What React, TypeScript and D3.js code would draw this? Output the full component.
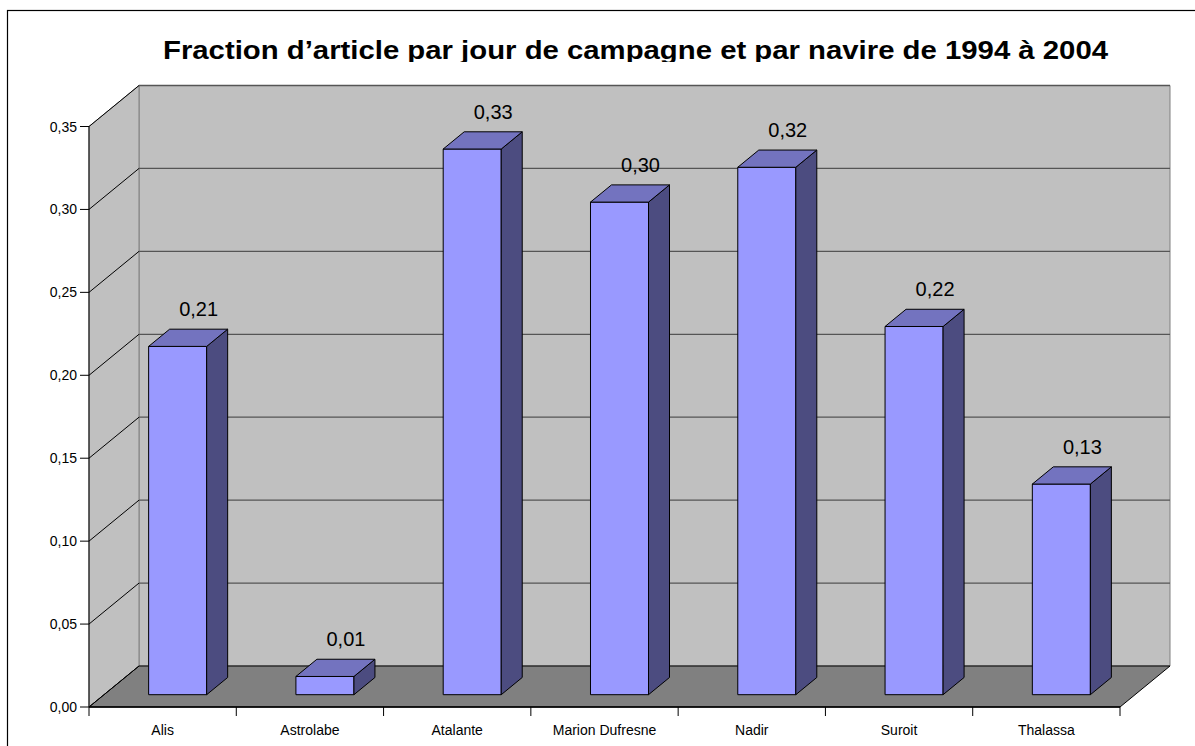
import React from "react";
import * as d3 from "d3";

const categories = ["Alis", "Astrolabe", "Atalante", "Marion Dufresne", "Nadir", "Suroit", "Thalassa"];
const values = [0.21, 0.011, 0.329, 0.297, 0.318, 0.222, 0.127];
const yTicks = [0, 0.05, 0.1, 0.15, 0.2, 0.25, 0.3, 0.35];
const title = "Fraction d\u2019article par jour de campagne et par navire de 1994 à 2004";

const W = 1195;
const H = 746;
const DX = 50;
const DY = -41;
const D0 = 0.3;
const D1 = 0.72;

const fmt = (v: number) => d3.format(".2f")(v).replace(".", ",");

export default function App() {
  const x = d3.scaleBand<string>().domain(categories).range([89, 1120]).padding(0);
  const y = d3.scaleLinear().domain([0, 0.35]).range([707, 126.5]);
  const step = x.step();
  const barW = step * 0.394;
  const p = (px: number, py: number, d: number) => [px + d * DX, py + d * DY];
  const pts = (arr: number[][]) => arr.map((a) => a.join(",")).join(" ");

  const x0 = x.range()[0];
  const x1 = x.range()[1];
  const yTop = y(0.35);
  const y0 = y(0);

  return (
    <svg width={W} height={H} style={{ position: "fixed", left: 0, top: 0, background: "#fff" }}
      fontFamily="'Liberation Sans', Arial, sans-serif">
      <defs>
        <clipPath id="titleClip">
          <rect x={0} y={0} width={W} height={62} />
        </clipPath>
      </defs>
      <rect x={7.5} y={10.5} width={1300} height={900} fill="#fff" stroke="#000" strokeWidth={1.2} />
      <text x={635.5} y={59} textAnchor="middle" fontSize={26} fontWeight="bold" textLength={945}
        lengthAdjust="spacingAndGlyphs" clipPath="url(#titleClip)">{title}</text>

      {/* back wall */}
      <polygon points={pts([p(x0, yTop, 1), p(x1, yTop, 1), p(x1, y0, 1), p(x0, y0, 1)])}
        fill="#c0c0c0" stroke="#808080" strokeWidth={1} />
      {/* left wall */}
      <polygon points={pts([p(x0, yTop, 0), p(x0, yTop, 1), p(x0, y0, 1), p(x0, y0, 0)])}
        fill="#c0c0c0" stroke="#808080" strokeWidth={1} />
      {/* floor */}
      <polygon points={pts([p(x0, y0, 0), p(x1, y0, 0), p(x1, y0, 1), p(x0, y0, 1)])}
        fill="#808080" stroke="#000" strokeWidth={1} />

      {/* gridlines */}
      {yTicks.map((t) => {
        const a = p(x0, y(t), 0);
        const b = p(x0, y(t), 1);
        const c = p(x1, y(t), 1);
        return (
          <g key={t}>
            <line x1={a[0]} y1={a[1]} x2={b[0]} y2={b[1]} stroke="#000" strokeWidth={1} />
            {t > 0 && <line x1={b[0]} y1={b[1]} x2={c[0]} y2={c[1]} stroke="#555" strokeWidth={1.3} />}
            <line x1={x0 - 9} y1={y(t)} x2={x0} y2={y(t)} stroke="#000" strokeWidth={1} />
            <text x={x0 - 12} y={y(t) + 5} textAnchor="end" fontSize={14}>{fmt(t)}</text>
          </g>
        );
      })}
      {/* front axis line */}
      <line x1={x0} y1={yTop} x2={x0} y2={y0 + 9} stroke="#000" strokeWidth={1} />
      <line x1={x0} y1={y0} x2={x1} y2={y0} stroke="#000" strokeWidth={1.3} />

      {/* category ticks and labels */}
      {categories.map((c, i) => (
        <line key={"t" + i} x1={x0 + (i + 1) * step} y1={y0} x2={x0 + (i + 1) * step} y2={y0 + 9}
          stroke="#000" strokeWidth={1} />
      ))}
      {categories.map((c) => (
        <text key={"l" + c} x={(x(c) as number) + step / 2} y={735} textAnchor="middle" fontSize={14}>{c}</text>
      ))}

      {/* bars */}
      {categories.map((c, i) => {
        const cx = (x(c) as number) + step / 2;
        const bl = cx - barW / 2;
        const br = cx + barW / 2;
        const yt = y(values[i]);
        const f = [p(bl, yt, D0), p(br, yt, D0), p(br, y0, D0), p(bl, y0, D0)];
        const side = [p(br, yt, D0), p(br, yt, D1), p(br, y0, D1), p(br, y0, D0)];
        const top = [p(bl, yt, D0), p(bl, yt, D1), p(br, yt, D1), p(br, yt, D0)];
        const lab = p(cx, yt, D1);
        return (
          <g key={"b" + c}>
            <polygon points={pts(f)} fill="#9999ff" stroke="#000" strokeWidth={1} strokeLinejoin="round" />
            <polygon points={pts(side)} fill="#4c4c80" stroke="#000" strokeWidth={1} strokeLinejoin="round" />
            <polygon points={pts(top)} fill="#7373bf" stroke="#000" strokeWidth={1} strokeLinejoin="round" />
            <text x={lab[0]} y={lab[1] - 13} textAnchor="middle" fontSize={20}>{fmt(values[i])}</text>
          </g>
        );
      })}
    </svg>
  );
}
